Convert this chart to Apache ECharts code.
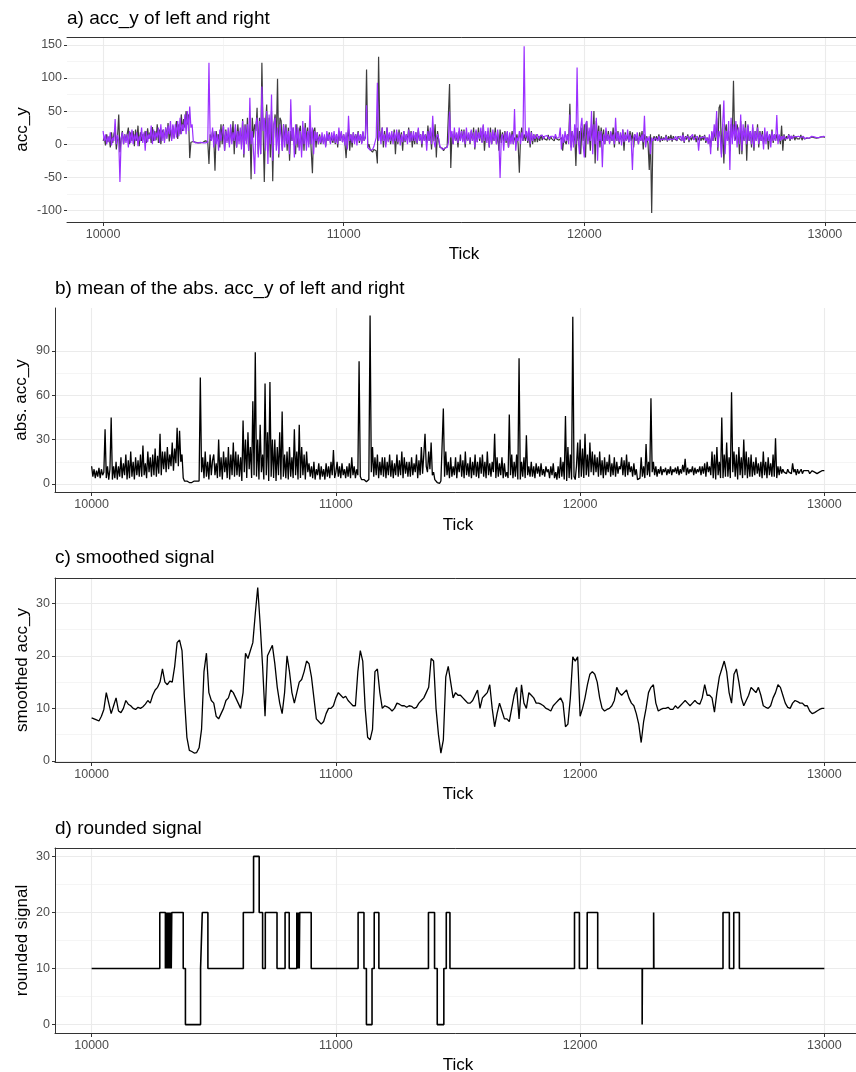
<!DOCTYPE html>
<html>
<head>
<meta charset="utf-8">
<script src="https://cdn.jsdelivr.net/npm/echarts@6/dist/echarts.min.js"></script>
<style>
html,body{margin:0;padding:0;background:#ffffff;}
#chart{width:856px;height:1072px;}
</style>
</head>
<body>
<div id="chart"></div>
<script>
// ---------- data ----------
const tickStart = 10000;
const rawStep = 5;       // a) and b): one value every 5 ticks
const smoothStep = 10;   // c): one value every 10 ticks

// a) acc_y of left (dark grey) — one row = 50 ticks
const accYLeft = [
  5, 10, -2, 15, 3, 12, -5, 18, 2, 15,
  22, -8, 10, 45, -12, 8, 20, 0, 15, 5,
  8, 25, 0, 18, 5, 20, -3, 22, 5, 28,
  -3, 18, 5, 15, 10, 20, 2, 24, 8, 18,
  2, 26, 5, 20, 6, 30, 2, 22, 0, 18,
  22, 5, 25, 10, 32, 4, 22, 8, 28, 10,
  12, 35, 8, 30, 15, 45, 20, 38, 25, 50,
  30, 45, -21, 3, 2, 4, 2, 3, 3, 2,
  3, 2, 4, 3, 2, 5, 3, 4, -30, 15,
  5, 20, 10, -40, 20, 5, 15, -5, 30, 0,
  30, -10, 22, 5, 15, 0, 25, 5, 35, -15,
  25, -5, 30, 5, 20, 0, 38, -20, 30, 5,
  40, -10, 30, -53, 40, 10, 30, 20, 55, -15,
  40, -15, 123, 20, -57, 30, 60, -10, 40, -20,
  50, -56, 30, 45, 10, 99, -20, 40, 35, -10,
  30, 5, 30, -10, 25, -25, 20, 5, 25, 0,
  -15, 30, -5, 20, 28, -10, 25, -10, 32, 5,
  25, 0, 30, -10, -44, 20, 25, -5, 18, 0,
  15, 0, 12, 3, 12, -3, 15, 5, 18, 2,
  12, 2, 14, 0, 15, -5, 20, 5, 18, 3,
  15, 2, -21, 10, 22, -10, 15, -5, 18, 5,
  15, 5, 20, 2, 15, 2, 18, 5, 10, 113,
  -5, 0, -8, -5, -12, -8, -6, -10, -29, 132,
  20, 5, 25, -5, 20, 0, 25, 5, 15, 0,
  15, 5, 22, -15, 18, 0, 22, 5, 18, -10,
  20, 3, 15, 5, 25, 3, 20, -5, 15, 0,
  18, 0, 22, 5, 15, -5, 20, 5, 15, 2,
  28, 5, 20, -8, 25, 5, 30, -20, 20, 5,
  -5, -8, -6, -10, -6, -8, -4, -6, 91, -36,
  15, 0, 20, 5, 15, -5, 20, 5, 22, 5,
  22, -5, 18, 5, 15, 0, 20, 5, 25, -8,
  20, 3, 25, 5, 20, 3, 28, -10, 15, 5,
  20, -5, 25, 0, 15, 5, 25, 0, 15, -10,
  22, 2, 18, 5, 20, 2, 18, -5, 15, 5,
  20, 0, 10, 5, 15, 0, -43, 10, 25, 5,
  15, 5, 18, 2, 15, -5, 20, 0, 15, 3,
  15, 3, 12, 5, 14, 6, 12, 8, 10, 6,
  14, 6, 12, 8, 10, 5, 12, 8, 10, 6,
  5, 10, -10, 8, 10, 0, 15, 5, 61, -5,
  20, 5, 15, -33, 25, 5, 20, -15, 25, 5,
  30, -20, 35, 5, 20, -10, 30, 5, 50, -29,
  35, 5, 28, -5, 25, 5, 22, 0, 20, 5,
  20, 2, 18, 5, 25, -5, 18, 5, 20, 0,
  15, 5, 22, -10, 18, 5, 15, 3, 20, 5,
  18, -5, 15, 5, 12, 0, 18, 5, 20, -8,
  15, 5, 12, 0, -39, 15, -104, 5, 12, 5,
  12, 5, 15, 3, 12, 5, 10, 6, 14, 4,
  12, 6, 14, 4, 12, 8, 10, 5, 12, 8,
  10, 5, 18, 2, 12, 7, 15, 3, 12, 6,
  12, 7, 15, 3, 11, 6, 14, 5, 12, 6,
  14, 2, 10, 5, 10, -5, 18, 5, 20, 5,
  40, -10, 55, 60, -15, 30, -29, 20, 30, 5,
  20, -10, 30, 10, 96, 5, 10, 30, 20, -15,
  35, -15, 20, 5, 35, -25, 28, 5, 20, -5,
  25, -10, 20, 5, 30, -5, 20, 5, 20, 0,
  15, 5, 18, -8, 15, 5, 22, 2, 15, 5,
  15, 5, 12, 0, 28, -10, 15, 5, 12, 8,
  15, 5, 12, 8, 14, 6, 12, 8, 10, 8,
  14, 6, 12, 8, 10, 9, 11, 9, 10, 11,
  11, 10, 12, 9, 11, 10, 10, 11, 10, 11,
  10
];
// a) acc_y of right (purple) — one row = 50 ticks
const accYRight = [
  20, 5, 15, 0, 12, 3, 18, -2, 10, 5,
  38, 0, 14, 5, -57, 8, 18, 0, 15, 2,
  15, -5, 20, 2, 22, 0, 15, 5, 18, -3,
  12, 5, 25, 2, 18, -10, 20, 3, 15, 8,
  28, 0, 22, 5, 18, 10, 25, 2, 30, 5,
  22, 2, 25, 8, 28, 15, 35, 5, 30, 8,
  30, 10, 35, 12, 40, 15, 30, 20, 45, 15,
  50, 20, 57, 25, 30, 4, 3, 2, 3, 2,
  2, 3, 1, 2, 3, 2, 4, 3, 123, 10,
  5, 25, -5, 20, 0, 15, -10, 22, 5, 18,
  28, -10, 20, 2, 25, -5, 30, 0, 18, 5,
  30, -5, 20, 0, 25, -8, 35, -15, 28, 0,
  30, -10, 70, 0, 20, -10, -45, 30, 40, -20,
  35, -15, 87, 20, 40, -10, 50, -30, 45, 0,
  75, -25, 30, 40, -10, 25, -15, 30, 10, -10,
  30, -5, 25, 0, 20, -15, 68, 5, 25, -20,
  30, 0, 25, -10, 20, -20, 35, 0, 25, -10,
  20, -5, 59, 0, 25, -15, 20, 5, 18, 0,
  12, 2, 18, 0, 15, -5, 20, 5, 15, 0,
  18, 5, 20, 2, 15, 0, 25, 5, 20, 3,
  15, -2, 18, -8, 43, 5, 15, 2, 18, 0,
  15, -2, 18, 5, 15, 0, 20, 5, 12, 59,
  -5, -8, -9, -6, -8, -4, -5, 10, 93, 5,
  20, 0, 25, 5, 15, -5, 25, 3, 18, 5,
  20, 0, 18, 5, 22, 3, 18, -2, 15, 3,
  20, 5, 15, 0, 22, 3, 18, 5, 20, 5,
  18, 2, 25, 5, 15, 0, 20, 5, 15, -10,
  20, 5, 25, 0, 43, 5, -5, 10, 15, 8,
  -3, -6, -8, -5, -6, -4, -5, 2, 49, 10,
  20, 0, 25, 5, 18, 2, 25, 5, 20, 3,
  20, 0, 25, 5, 18, 2, 22, 5, 18, -5,
  22, 3, 18, 8, 25, 2, 30, 5, 20, 2,
  25, -5, 18, 0, 22, 5, 18, 0, 22, 5,
  -51, 10, 15, -10, 18, 5, 20, -5, 18, 0,
  15, 0, 53, -10, 10, 5, 20, 0, 18, 5,
  148, 10, 20, 5, 25, 0, 18, 5, 15, 8,
  5, 15, 8, 12, 10, 14, 8, 12, 10, 13,
  14, 8, 12, 9, 12, 8, 15, 9, 12, 10,
  25, -8, 15, 2, 20, 5, 15, 0, 45, -10,
  20, -5, 30, 0, 116, 5, -15, 25, 40, 0,
  -20, 30, 35, 0, 25, 5, 50, -15, 30, 0,
  40, -25, 20, 5, 20, -35, 15, 0, 25, 5,
  15, 0, 20, 5, 15, 0, 40, 5, 18, 3,
  18, -2, 22, 3, 15, 5, 22, 3, 15, 5,
  -39, 10, 15, 5, 18, 0, 12, 5, 15, 3,
  43, -5, 10, 5, 12, -15, 10, 5, 8, 10,
  10, 5, 12, 6, 9, 8, 11, 7, 12, 6,
  9, 8, 11, 7, 10, 8, 12, 6, 10, 8,
  12, 5, 14, 4, 10, 8, 12, 6, 10, 8,
  15, 6, 10, 8, 12, -10, 10, 8, 10, 9,
  12, 5, 10, 0, 15, -15, 20, 5, 30, 10,
  50, -5, 20, 10, -20, 30, 66, -15, 20, 5,
  35, -39, 40, 0, 30, 5, 35, -5, 25, 0,
  45, -10, 30, 5, 25, 0, 30, 5, 20, 0,
  30, -5, 20, 5, 25, 0, 18, 5, 15, -8,
  25, 0, 20, 5, 15, -5, 20, 5, 15, 5,
  44, 0, 15, 5, 12, 7, 13, 8, 11, 9,
  14, 7, 13, 8, 12, 9, 11, 8, 12, 9,
  10, 9, 12, 8, 10, 10, 11, 9, 10, 12,
  10, 11, 9, 10, 11, 10, 9, 11, 10, 12,
  11
];

// b) mean of the abs. acc_y — one row = 50 ticks
const absAccY = [
  12, 5, 10, 4, 9, 5, 11, 4, 10, 6,
  8, 37, 4, 12, 3, 10, 45, 3, 12, 4,
  15, 3, 12, 5, 18, 4, 14, 6, 20, 3,
  16, 4, 22, 5, 15, 3, 18, 6, 16, 5,
  20, 5, 26, 6, 14, 4, 22, 8, 18, 5,
  20, 6, 24, 5, 19, 7, 34, 6, 22, 10,
  22, 8, 25, 10, 20, 12, 28, 9, 24, 14,
  38, 12, 36, 15, 20, 4, 2, 1, 2, 1,
  1, 2, 1, 0.5, 2, 1, 2, 3, 2, 72,
  8, 18, 4, 22, 5, 15, 3, 20, 6, 16,
  20, 6, 14, 4, 30, 5, 18, 3, 22, 8,
  18, 4, 25, 3, 20, 6, 28, 5, 22, 6,
  20, 5, 18, 2, 43, 8, 30, 4, 35, 10,
  25, 4, 56, 6, 89, 5, 30, 3, 40, 8,
  20, 3, 68, 6, 35, 2, 69, 5, 30, 4,
  30, 2, 25, 6, 35, 3, 49, 5, 20, 4,
  22, 3, 25, 5, 18, 4, 37, 6, 22, 3,
  40, 4, 25, 6, 20, 3, 22, 8, 14, 5,
  12, 4, 15, 3, 10, 6, 14, 3, 12, 5,
  10, 3, 14, 5, 12, 4, 15, 6, 23, 4,
  8, 15, 5, 12, 4, 14, 6, 10, 4, 12,
  5, 14, 4, 18, 6, 12, 4, 10, 6, 83,
  5, 3, 2, 3, 2, 1.5, 2, 3, 114, 8,
  25, 5, 18, 6, 20, 4, 15, 6, 18, 5,
  18, 4, 15, 6, 20, 5, 16, 4, 14, 6,
  20, 5, 16, 6, 22, 4, 18, 7, 15, 5,
  15, 5, 18, 6, 14, 8, 20, 4, 16, 6,
  25, 7, 20, 34, 12, 8, 22, 10, 28, 6,
  8, 3, 2, 1, 1, 0.5, 2, 3, 51, 5,
  22, 6, 15, 4, 18, 5, 12, 6, 18, 4,
  15, 8, 20, 5, 16, 4, 22, 6, 14, 5,
  18, 4, 15, 6, 20, 5, 15, 4, 18, 7,
  20, 5, 15, 4, 22, 6, 14, 5, 15, 8,
  34, 4, 18, 5, 14, 6, 18, 4, 14, 5,
  8, 4, 47, 6, 20, 4, 15, 5, 20, 3,
  85, 3, 15, 5, 18, 4, 33, 6, 12, 5,
  15, 5, 12, 4, 14, 7, 12, 5, 14, 6,
  10, 5, 12, 8, 10, 4, 12, 6, 14, 4,
  8, 3, 12, 4, 18, 5, 15, 3, 46, 2,
  25, 4, 20, 3, 113, 5, 3, 12, 28, 4,
  30, 5, 24, 4, 34, 6, 20, 5, 28, 8,
  22, 6, 20, 8, 18, 5, 22, 6, 16, 4,
  18, 6, 15, 8, 20, 5, 14, 6, 18, 5,
  15, 7, 12, 10, 18, 6, 16, 5, 20, 6,
  15, 8, 12, 5, 14, 6, 10, 3, 2, 4,
  18, 5, 12, 4, 27, 6, 15, 5, 58, 8,
  15, 6, 12, 5, 10, 7, 12, 6, 10, 8,
  11, 6, 10, 7, 12, 6, 10, 8, 11, 7,
  12, 6, 10, 7, 13, 8, 17, 6, 11, 7,
  10, 8, 12, 6, 11, 7, 10, 8, 12, 6,
  12, 7, 14, 5, 15, 8, 12, 6, 22, 4,
  20, 3, 25, 6, 15, 4, 45, 4, 20, 5,
  28, 5, 18, 4, 62, 8, 22, 5, 20, 3,
  25, 6, 18, 4, 30, 6, 22, 4, 18, 5,
  20, 5, 15, 6, 18, 7, 14, 5, 15, 4,
  22, 6, 15, 4, 18, 6, 14, 5, 20, 5,
  31, 4, 12, 6, 12, 7, 10, 8, 9, 7,
  10, 8, 9, 7, 14, 8, 10, 6, 10, 7,
  8, 10, 7, 9, 8, 9, 8, 9, 7, 8,
  9, 8, 8, 9, 7, 8, 8, 9, 9, 8,
  9
];

// c) smoothed signal — one row = 100 ticks
const smoothedAccY = [
  8.2, 8.0, 7.8, 7.6, 8.5, 9.8, 13.0, 11.0, 9.0, 10.5,
  12.0, 9.5, 9.2, 10.0, 11.5, 10.8, 10.5, 10.0, 9.8, 10.2,
  10.0, 10.3, 10.8, 11.5, 11.0, 12.5, 13.5, 14.0, 15.0, 17.5,
  15.0, 14.5, 15.2, 15.0, 18.0, 22.5, 23.0, 21.0, 12.0, 4.5,
  2.0, 1.8, 1.5, 1.6, 2.5, 6.0, 17.0, 20.5, 13.0, 11.5,
  11.0, 8.5, 8.0, 9.0, 10.0, 11.5, 12.0, 13.5, 13.0, 12.0,
  11.0, 10.0, 13.0, 20.5, 19.5, 21.0, 22.5, 28.0, 33.0, 26.0,
  18.0, 8.5, 20.0, 21.0, 22.0, 18.5, 14.0, 11.0, 9.0, 13.0,
  20.0, 17.0, 13.0, 11.0, 13.0, 15.0, 15.5, 17.0, 19.0, 18.5,
  16.0, 12.0, 8.0, 7.5, 7.0, 7.5, 9.0, 10.0, 10.0, 10.5,
  12.0, 13.0, 12.5, 12.0, 12.3, 11.5, 11.0, 10.5, 10.5, 17.0,
  21.0, 19.0, 10.0, 4.5, 4.0, 6.0, 17.0, 17.5, 13.0, 10.0,
  10.5, 10.3, 10.0, 9.5, 10.0, 11.0, 10.8, 10.5, 10.5, 10.2,
  10.5, 10.4, 10.0, 10.2, 11.0, 11.5, 12.0, 13.0, 14.0, 19.5,
  19.0, 10.0, 5.0, 1.5, 4.0, 16.0, 18.0, 15.0, 12.0, 13.0,
  12.5, 12.5, 12.0, 11.5, 11.0, 11.0, 11.5, 12.5, 13.5, 10.0,
  12.0, 12.5, 13.0, 14.5, 10.0, 6.5, 9.0, 11.0, 9.5, 8.0,
  8.0, 7.5, 10.0, 12.5, 14.0, 8.0, 14.5, 11.0, 10.0, 13.0,
  12.5, 12.0, 11.0, 11.0, 10.8, 10.5, 10.0, 9.8, 9.5, 10.5,
  11.0, 11.5, 12.0, 11.0, 6.5, 7.0, 12.0, 19.8, 19.0, 19.8,
  8.5, 10.0, 12.0, 14.5, 16.5, 17.0, 16.5, 15.0, 12.0, 10.0,
  9.5, 9.8, 10.0, 10.5, 11.5, 14.0, 13.0, 12.5, 13.0, 13.5,
  12.0, 11.0, 10.5, 9.0, 7.0, 3.5, 7.5, 10.0, 13.0, 14.0,
  14.5, 11.0, 9.5, 9.8, 10.0, 10.0, 10.2, 9.8, 9.8, 10.5,
  10.0, 10.5, 11.0, 11.5, 11.0, 10.5, 11.0, 11.5, 11.0, 10.8,
  12.0, 14.5, 12.5, 12.5, 12.0, 9.3, 13.0, 16.0, 17.5, 19.0,
  17.0, 13.0, 11.0, 16.5, 17.5, 15.0, 12.0, 10.5, 11.5, 12.5,
  14.0, 13.5, 13.0, 14.0, 12.5, 10.5, 10.2, 10.0, 10.5, 12.0,
  13.0, 14.5, 14.0, 12.5, 11.0, 10.2, 10.0, 11.0, 11.5, 11.3,
  11.0, 11.0, 10.5, 10.5, 9.5, 9.0, 9.2, 9.5, 9.8, 10.0,
  10.0
];

// d) rounded signal: tick where each level starts, and the level
const roundedTicks = [
  10000, 10279,
  10302, 10304, 10306, 10308, 10310, 10312, 10314, 10316, 10318, 10320, 10322, 10324, 10326, 10328,
  10375, 10384, 10446, 10453, 10476, 10621, 10663, 10686, 10700, 10711, 10759, 10792, 10809,
  10840, 10842, 10844, 10846, 10848, 10850, 10852,
  10899, 11091, 11115, 11125, 11148, 11157, 11176, 11379, 11404, 11415, 11442, 11452, 11467,
  11977, 11997, 12029, 12072, 12254, 12255, 12301, 12302, 12585, 12611, 12629, 12652, 13000
];
const roundedValues = [
  10, 20,
  10, 20, 10, 20, 10, 20, 10, 20, 10, 20, 10, 20, 10, 20,
  10, 0, 10, 20, 10, 20, 30, 20, 10, 20, 10, 20, 10,
  20, 10, 20, 10, 20, 10, 20,
  10, 20, 10, 0, 10, 20, 10, 20, 10, 0, 10, 20, 10,
  20, 10, 20, 10, 0, 10, 20, 10, 20, 10, 20, 10, 10
];

// axis breaks
const xMajorTicks = [10000, 11000, 12000, 13000];
const xMinorTicksA = [10500];
const yMajorA = [-100, -50, 0, 50, 100, 150];
const yMinorA = [-75, -25, 25, 75, 125];
const yMajorB = [0, 30, 60, 90];
const yMinorB = [15, 45, 75];
const yMajorC = [0, 10, 20, 30];
const yMinorC = [5, 15, 25];
const yMajorD = [0, 10, 20, 30];
const yMinorD = [5, 15, 25];

const panelTitles = [
  'a) acc_y of left and right',
  'b) mean of the abs. acc_y of left and right',
  'c) smoothed signal',
  'd) rounded signal'
];
const yTitles = ['acc_y', 'abs. acc_y', 'smoothed acc_y', 'rounded signal'];
const xTitle = 'Tick';

// ---------- layout ----------
const FONT = '"Liberation Sans", Arial, Helvetica, sans-serif';
const panels = [
  { left: 67, top: 37, width: 794, height: 185, yMin: -117.6, yMax: 162, yMajor: yMajorA, yMinor: yMinorA, xMinor: xMinorTicksA, topLine: true, leftLine: false, titleX: 67, titleY: 18.5, yTitleX: 22, tickY: 254 },
  { left: 55, top: 308, width: 806, height: 184, yMin: -5.4, yMax: 119, yMajor: yMajorB, yMinor: yMinorB, xMinor: [], topLine: false, leftLine: true, titleX: 55, titleY: 288.5, yTitleX: 21, tickY: 525 },
  { left: 55, top: 578, width: 806, height: 184, yMin: -0.2, yMax: 34.8, yMajor: yMajorC, yMinor: yMinorC, xMinor: [], topLine: true, leftLine: true, titleX: 55, titleY: 557.5, yTitleX: 22, tickY: 794 },
  { left: 55, top: 848, width: 806, height: 185, yMin: -1.5, yMax: 31.5, yMajor: yMajorD, yMinor: yMinorD, xMinor: [], topLine: true, leftLine: true, titleX: 55, titleY: 828.5, yTitleX: 22, tickY: 1065 }
];
const X_MIN = 9850, X_MAX = 13150;
const BORDER = '#333333';
const GRID_MAJOR = '#ebebeb';
const GRID_MINOR = '#f0f0f0';
const LABEL = '#4d4d4d';
const plainNumber = v => String(v);

const grids = [], xAxes = [], yAxes = [], graphics = [];
panels.forEach((p, g) => {
  grids.push({ left: p.left, top: p.top, width: p.width, height: p.height, outerBoundsMode: 'none', containLabel: false, show: false });
  xAxes.push({
    type: 'value', gridIndex: g, min: X_MIN, max: X_MAX, position: 'bottom',
    axisLine: { show: true, onZero: false, lineStyle: { color: BORDER, width: 1 } },
    axisTick: { show: true, customValues: xMajorTicks, length: 4, lineStyle: { color: BORDER, width: 1 } },
    axisLabel: { show: true, customValues: xMajorTicks, formatter: plainNumber, color: LABEL, fontSize: 12.5, fontFamily: FONT, margin: 6 },
    splitLine: { show: true, lineStyle: { color: GRID_MAJOR, width: 1.1 } },
    minorTick: { show: false }, minorSplitLine: { show: false }
  });
  xAxes.push({
    type: 'value', gridIndex: g, min: X_MIN, max: X_MAX, position: 'top',
    axisLine: { show: p.topLine, onZero: false, lineStyle: { color: BORDER, width: 1 } },
    axisTick: { show: false, customValues: p.xMinor },
    axisLabel: { show: false },
    splitLine: { show: p.xMinor.length > 0, lineStyle: { color: GRID_MINOR, width: 0.7 } }
  });
  yAxes.push({
    type: 'value', gridIndex: g, min: p.yMin, max: p.yMax, position: 'left',
    axisLine: { show: p.leftLine, onZero: false, lineStyle: { color: BORDER, width: 1 } },
    axisTick: { show: true, customValues: p.yMajor, length: 3, lineStyle: { color: BORDER, width: 1 } },
    axisLabel: { show: true, customValues: p.yMajor, formatter: plainNumber, color: LABEL, fontSize: 12.5, fontFamily: FONT, margin: 5 },
    splitLine: { show: true, lineStyle: { color: GRID_MAJOR, width: 1.1 } }
  });
  yAxes.push({
    type: 'value', gridIndex: g, min: p.yMin, max: p.yMax, position: 'right',
    axisLine: { show: false, onZero: false },
    axisTick: { show: false, customValues: p.yMinor },
    axisLabel: { show: false },
    splitLine: { show: true, lineStyle: { color: GRID_MINOR, width: 0.7 } }
  });
  graphics.push({
    type: 'text', x: p.titleX, y: p.titleY, silent: true,
    style: { text: panelTitles[g], fill: '#000', font: '19px ' + FONT, align: 'left', verticalAlign: 'middle', textAlign: 'left', textVerticalAlign: 'middle' }
  });
  graphics.push({
    type: 'text', x: p.yTitleX, y: p.top + p.height / 2, rotation: Math.PI / 2, silent: true,
    style: { text: yTitles[g], fill: '#000', font: '17px ' + FONT, align: 'center', verticalAlign: 'middle', textAlign: 'center', textVerticalAlign: 'middle' }
  });
  graphics.push({
    type: 'text', x: p.left + p.width / 2, y: p.tickY, silent: true,
    style: { text: xTitle, fill: '#000', font: '17px ' + FONT, align: 'center', verticalAlign: 'middle', textAlign: 'center', textVerticalAlign: 'middle' }
  });
});

function toPairs(values, step) {
  return values.map((v, i) => [tickStart + i * step, v]);
}
const roundedPairs = roundedTicks.map((t, i) => [t, roundedValues[i]]);

const baseLine = { type: 'line', showSymbol: false, symbol: 'none', silent: true, animation: false, clip: true, sampling: null, progressive: 0 };

const option = {
  animation: false,
  backgroundColor: '#ffffff',
  textStyle: { fontFamily: FONT },
  grid: grids,
  xAxis: xAxes,
  yAxis: yAxes,
  graphic: graphics,
  series: [
    Object.assign({}, baseLine, { name: 'left', xAxisIndex: 0, yAxisIndex: 0, data: toPairs(accYLeft, rawStep), lineStyle: { color: '#3d3d3d', width: 1.2, join: 'bevel' }, z: 2 }),
    Object.assign({}, baseLine, { name: 'right', xAxisIndex: 0, yAxisIndex: 0, data: toPairs(accYRight, rawStep), lineStyle: { color: '#9b30ff', width: 1.2, join: 'bevel' }, z: 3 }),
    Object.assign({}, baseLine, { name: 'abs', xAxisIndex: 2, yAxisIndex: 2, data: toPairs(absAccY, rawStep), lineStyle: { color: '#000000', width: 1.3, join: 'bevel' } }),
    Object.assign({}, baseLine, { name: 'smoothed', xAxisIndex: 4, yAxisIndex: 4, data: toPairs(smoothedAccY, smoothStep), lineStyle: { color: '#000000', width: 1.3, join: 'bevel' } }),
    Object.assign({}, baseLine, { name: 'rounded', xAxisIndex: 6, yAxisIndex: 6, data: roundedPairs, step: 'end', lineStyle: { color: '#000000', width: 1.6 } })
  ]
};

const chart = echarts.init(document.getElementById('chart'), null, { renderer: 'canvas', width: 856, height: 1072 });
chart.setOption(option);
</script>
</body>
</html>
